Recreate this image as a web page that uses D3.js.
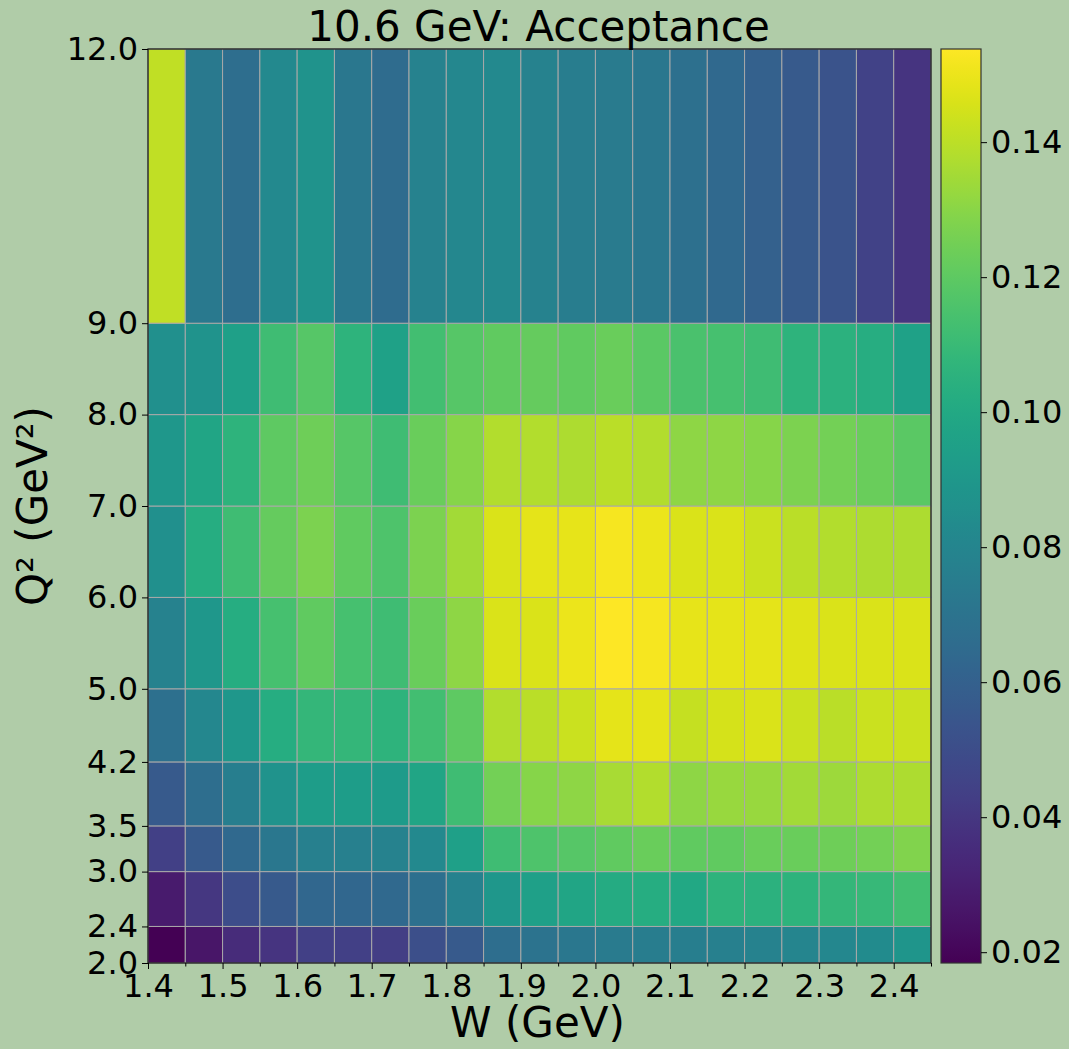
<!DOCTYPE html>
<html><head><meta charset="utf-8">
<script src="https://cdn.jsdelivr.net/npm/d3@7"></script>
<style>
body{margin:0;background:#b0cca8;}
svg{display:block;}
text{font-family:"DejaVu Sans",sans-serif;fill:#000;}
</style>
</head><body>
<svg id="chart" width="1069" height="1049"></svg>
<script>
// ---- data ----
const wEdges = [1.40,1.45,1.50,1.55,1.60,1.65,1.70,1.75,1.80,1.85,1.90,1.95,2.00,2.05,2.10,2.15,2.20,2.25,2.30,2.35,2.40,2.45];
const q2Edges = [2.0,2.4,3.0,3.5,4.2,5.0,6.0,7.0,8.0,9.0,12.0];
const wTickLabels = [1.4,1.5,1.6,1.7,1.8,1.9,2.0,2.1,2.2,2.3,2.4];
const cbTickLabels = [0.02,0.04,0.06,0.08,0.10,0.12,0.14];

const accQ2_2_0 = [0.0184,0.026,0.035,0.039,0.044,0.044,0.043,0.051,0.056,0.067,0.070,0.072,0.074,0.075,0.076,0.077,0.078,0.080,0.081,0.083,0.089];
const accQ2_2_4 = [0.028,0.040,0.050,0.056,0.063,0.063,0.064,0.068,0.078,0.090,0.095,0.098,0.101,0.102,0.0996,0.106,0.105,0.106,0.108,0.109,0.113];
const accQ2_3_0 = [0.044,0.056,0.064,0.072,0.077,0.077,0.078,0.082,0.095,0.112,0.116,0.118,0.121,0.123,0.121,0.121,0.123,0.123,0.124,0.125,0.128];
const accQ2_3_5 = [0.056,0.067,0.076,0.088,0.093,0.093,0.092,0.098,0.112,0.125,0.129,0.131,0.136,0.138,0.131,0.133,0.133,0.135,0.134,0.137,0.137];
const accQ2_4_2 = [0.068,0.081,0.090,0.102,0.108,0.108,0.106,0.113,0.120,0.138,0.140,0.143,0.148,0.148,0.142,0.145,0.146,0.143,0.140,0.143,0.143];
const accQ2_5_0 = [0.078,0.090,0.102,0.114,0.121,0.114,0.112,0.123,0.131,0.146,0.146,0.150,0.1538,0.152,0.149,0.148,0.148,0.147,0.146,0.146,0.146];
const accQ2_6_0 = [0.086,0.102,0.112,0.122,0.127,0.121,0.116,0.127,0.135,0.146,0.148,0.149,0.152,0.150,0.146,0.146,0.143,0.140,0.138,0.137,0.137];
const accQ2_7_0 = [0.090,0.098,0.106,0.120,0.124,0.118,0.112,0.123,0.129,0.138,0.138,0.137,0.140,0.138,0.131,0.131,0.129,0.127,0.125,0.123,0.119];
const accQ2_8_0 = [0.086,0.088,0.095,0.112,0.118,0.106,0.096,0.113,0.118,0.121,0.122,0.121,0.123,0.119,0.115,0.114,0.112,0.106,0.105,0.103,0.096];
const accQ2_9_0 = [0.141,0.073,0.067,0.082,0.088,0.072,0.066,0.078,0.081,0.082,0.078,0.075,0.074,0.072,0.068,0.064,0.060,0.056,0.053,0.045,0.039];
const acceptanceRows = [accQ2_2_0,accQ2_2_4,accQ2_3_0,accQ2_3_5,accQ2_4_2,accQ2_5_0,accQ2_6_0,accQ2_7_0,accQ2_8_0,accQ2_9_0];

const titleText = "10.6 GeV: Acceptance";
const xLabel = "W (GeV)";
const yLabel = "Q² (GeV²)";

// ---- layout ----
const plot = {left:148, right:931, top:49, bottom:963};
const cb = {left:941, right:981};
const tickFont = 32, labelFont = 42;

const svg = d3.select("#chart");
const x = d3.scaleLinear().domain([wEdges[0], wEdges[wEdges.length-1]]).range([plot.left, plot.right]);
const y = d3.scaleLinear().domain([q2Edges[0], q2Edges[q2Edges.length-1]]).range([plot.bottom, plot.top]);

const allVals = acceptanceRows.flat();
const vmin = d3.min(allVals), vmax = d3.max(allVals);
const color = d3.scaleSequential(d3.interpolateViridis).domain([vmin, vmax]);

// cells
const cells = [];
acceptanceRows.forEach((row, j) => row.forEach((v, i) => cells.push({i, j, v})));
svg.append("g").selectAll("rect").data(cells).join("rect")
  .attr("x", d => x(wEdges[d.i]))
  .attr("y", d => y(q2Edges[d.j+1]))
  .attr("width", d => x(wEdges[d.i+1]) - x(wEdges[d.i]))
  .attr("height", d => y(q2Edges[d.j]) - y(q2Edges[d.j+1]))
  .attr("fill", d => color(d.v))
  .attr("stroke", "#a9a9a9")
  .attr("stroke-width", 1);

// frame
svg.append("rect").attr("x", plot.left).attr("y", plot.top)
  .attr("width", plot.right-plot.left).attr("height", plot.bottom-plot.top)
  .attr("fill","none").attr("stroke","#111").attr("stroke-width",1.2);

// x axis
const xAxis = d3.axisBottom(x).tickValues(wTickLabels).tickFormat(d3.format(".1f")).tickSize(6).tickPadding(5);
const gx = svg.append("g").attr("transform", `translate(0,${plot.bottom})`).call(xAxis);
gx.select(".domain").remove();
gx.selectAll("text").attr("font-size", tickFont).attr("font-family","DejaVu Sans");
const minorW = wEdges.filter(w => !wTickLabels.some(t => Math.abs(t-w) < 1e-9));
const xMinor = d3.axisBottom(x).tickValues(minorW).tickFormat("").tickSize(3.5);
const gxm = svg.append("g").attr("transform", `translate(0,${plot.bottom})`).call(xMinor);
gxm.select(".domain").remove();

// y axis
const yAxis = d3.axisLeft(y).tickValues(q2Edges).tickFormat(d3.format(".1f")).tickSize(6).tickPadding(4);
const gy = svg.append("g").attr("transform", `translate(${plot.left},0)`).call(yAxis);
gy.select(".domain").remove();
gy.selectAll("text").attr("font-size", tickFont).attr("font-family","DejaVu Sans");

// labels
svg.append("text").attr("x", (plot.left+plot.right)/2 - 1).attr("y", 41)
  .attr("text-anchor","middle").attr("font-size", labelFont).text(titleText);
svg.append("text").attr("x", (plot.left+plot.right)/2 - 2).attr("y", 1037)
  .attr("text-anchor","middle").attr("font-size", labelFont).text(xLabel);
svg.append("text").attr("transform", `translate(47,${(plot.top+plot.bottom)/2}) rotate(-90)`)
  .attr("text-anchor","middle").attr("font-size", labelFont).text(yLabel);

// colorbar
const cbScale = d3.scaleLinear().domain([vmin, vmax]).range([plot.bottom, plot.top]);
const defs = svg.append("defs");
const grad = defs.append("linearGradient").attr("id","cbgrad").attr("x1",0).attr("y1",1).attr("x2",0).attr("y2",0);
d3.range(0, 1.0001, 0.02).forEach(t => grad.append("stop").attr("offset", t).attr("stop-color", d3.interpolateViridis(t)));
svg.append("rect").attr("x", cb.left).attr("y", plot.top).attr("width", cb.right-cb.left)
  .attr("height", plot.bottom-plot.top).attr("fill","url(#cbgrad)").attr("stroke","#333").attr("stroke-width",1.2);
const cbAxis = d3.axisRight(cbScale).tickValues(cbTickLabels).tickFormat(d3.format(".2f")).tickSize(6).tickPadding(4);
const gcb = svg.append("g").attr("transform", `translate(${cb.right},0)`).call(cbAxis);
gcb.select(".domain").remove();
gcb.selectAll("text").attr("font-size", tickFont).attr("font-family","DejaVu Sans");
</script>
</body></html>
